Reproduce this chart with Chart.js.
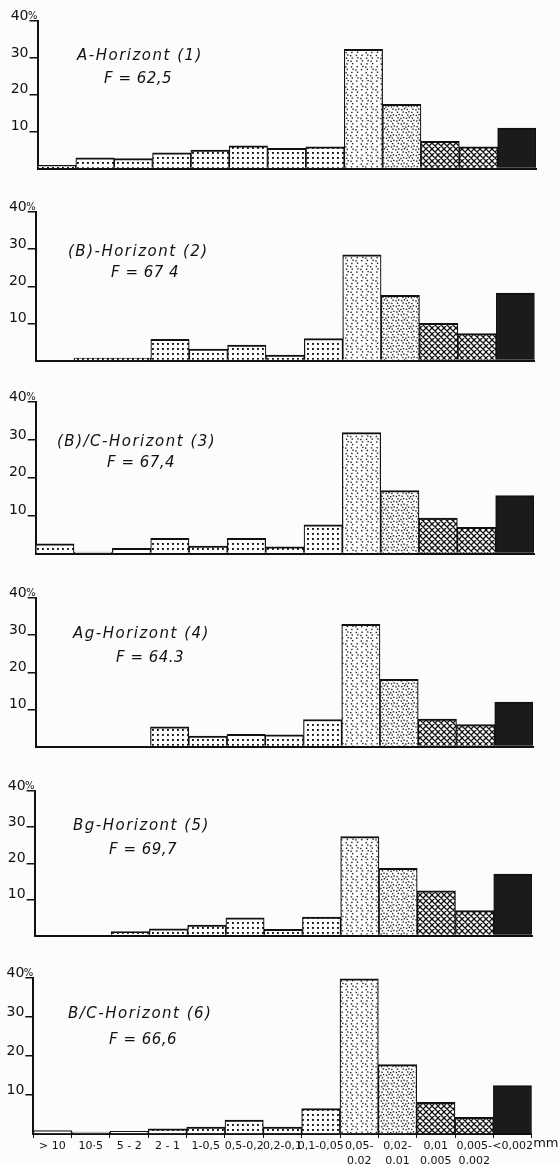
<!DOCTYPE html>
<html>
<head>
<meta charset="utf-8">
<script src="https://cdn.jsdelivr.net/npm/chart.js@4"></script>
<style>
  body { margin: 0; background: #fcfcfa; width: 560px; height: 1164px; overflow: hidden; position: relative; }
  canvas { position: absolute; left: 0; }
</style>
</head>
<body>
<script>
// grain size classes (mm)
const fractions = ['> 10', '10·5', '5 - 2', '2 - 1', '1-0,5', '0,5-0,2', '0,2-0,1', '0,1-0,05',
  ['0,05-', '0,02'], ['0,02-', '0,01'], ['0,01', '0,005'], ['0,005-', '0,002'], '<0,002'];
const yTicks = [0, 10, 20, 30, 40];

const horizons = ['A-Horizont (1)', '(B)-Horizont (2)', '(B)/C-Horizont (3)',
  'Ag-Horizont (4)', 'Bg-Horizont (5)', 'B/C-Horizont (6)'];
const fLabels = ['F = 62,5', 'F = 67 4', 'F = 67,4', 'F = 64.3', 'F = 69,7', 'F = 66,6'];

// percent per fraction
const h1 = [0.9, 2.9, 2.7, 4.3, 5.0, 6.2, 5.5, 5.9, 32.3, 17.4, 7.4, 5.9, 11.0];
const h2 = [0, 0.7, 0.7, 5.7, 3.1, 4.2, 1.5, 5.9, 28.5, 17.6, 10.0, 7.3, 18.2];
const h3 = [2.6, 0.4, 1.4, 4.0, 2.0, 4.0, 1.8, 7.6, 31.9, 16.6, 9.4, 6.9, 15.3];
const h4 = [0, 0, 0, 5.3, 2.8, 3.3, 3.2, 7.3, 32.9, 18.1, 7.4, 5.9, 12.0];
const h5 = [0, 0, 1.1, 1.9, 2.9, 4.9, 1.7, 5.1, 27.4, 18.6, 12.4, 6.9, 17.0];
const h6 = [0.9, 0.5, 0.7, 1.3, 1.8, 3.6, 1.8, 6.5, 39.8, 17.8, 8.1, 4.3, 12.4];
const series = [h1, h2, h3, h4, h5, h6];

// page layout of each panel (px)
const layout = [
  { top: 21,    base: 174,    left: 37.5, right: 536,   tx: 77, ty: 60,   fx: 104, fy: 83 },
  { top: 212,   base: 365.7,  left: 35.7, right: 534.6, tx: 68, ty: 256,  fx: 111, fy: 277 },
  { top: 402,   base: 559.3,  left: 35.7, right: 534,   tx: 57, ty: 446,  fx: 107, fy: 467 },
  { top: 598,   base: 751.7,  left: 35.7, right: 533,   tx: 73, ty: 638,  fx: 116, fy: 662 },
  { top: 790.7, base: 941,    left: 34.6, right: 532,   tx: 73, ty: 830,  fx: 109, fy: 854 },
  { top: 978,   base: 1133.7, left: 33.3, right: 531.7, tx: 68, ty: 1018, fx: 109, fy: 1044 }
];

Chart.defaults.font.family = '"DejaVu Sans"';
Chart.defaults.color = '#111';

function tile(w, h, draw) {
  const c = document.createElement('canvas');
  c.width = w; c.height = h;
  const g = c.getContext('2d');
  g.fillStyle = '#fff';
  g.fillRect(0, 0, w, h);
  draw(g);
  return g.createPattern(c, 'repeat');
}

const dotGrid = tile(5, 5, g => { g.fillStyle = '#151515'; g.fillRect(2, 2, 1.9, 1.9); });

function stipple(n) {
  return tile(20, 20, g => {
    g.fillStyle = '#222';
    for (let i = 0; i < n; i++) {
      const x = ((0.5 + i * 0.7548776662) % 1) * 20;
      const y = ((0.5 + i * 0.5698402910) % 1) * 20;
      g.fillRect(x, y, 1.4, 1.4);
    }
  });
}

const hatch = tile(6, 6, g => {
  g.strokeStyle = '#111';
  g.lineWidth = 1.3;
  g.beginPath();
  for (const o of [-6, 0, 6]) {
    g.moveTo(o, 0); g.lineTo(o + 6, 6);
    g.moveTo(o, 6); g.lineTo(o + 6, 0);
  }
  g.stroke();
});

const fills = [dotGrid, dotGrid, dotGrid, dotGrid, dotGrid, dotGrid, dotGrid, dotGrid,
  stipple(26), stipple(40), hatch, hatch, '#1b1b1b'];

const panelText = {
  id: 'panelText',
  afterDraw(chart, args, o) {
    const ctx = chart.ctx;
    const a = chart.chartArea;
    const y40 = chart.scales.y.getPixelForValue(40);
    ctx.save();
    ctx.fillStyle = '#111';
    ctx.textBaseline = 'alphabetic';
    ctx.font = 'italic 15px "DejaVu Sans"';
    ctx.letterSpacing = '1.5px';
    ctx.fillText(o.title, o.tx, o.ty);
    ctx.letterSpacing = '0.5px';
    ctx.fillText(o.f, o.fx, o.fy);
    ctx.letterSpacing = '0px';
    ctx.font = '10px "DejaVu Sans"';
    ctx.fillText('%', a.left - 9.5, y40 - 2.5);
    if (o.unit) {
      ctx.font = '13px "DejaVu Sans"';
      ctx.fillText(o.unit, a.right + 1.5, a.bottom + 13);
    }
    ctx.restore();
  }
};

series.forEach((values, i) => {
  const p = layout[i];
  const last = i === series.length - 1;
  const padTop = 16;
  const cTop = p.top - padTop;
  const xH = last ? 30 : 0;
  const padBottom = last ? 0 : 4;
  const cv = document.createElement('canvas');
  cv.width = 560;
  cv.height = Math.round(p.base - cTop + xH + padBottom);
  cv.style.top = cTop + 'px';
  document.body.appendChild(cv);

  new Chart(cv, {
    type: 'bar',
    data: {
      labels: fractions,
      datasets: [{
        data: values,
        backgroundColor: fills,
        borderColor: '#111',
        borderWidth: { top: 2, left: 1.2, right: 1.2, bottom: 0 },
        borderSkipped: 'start',
        barPercentage: 1,
        categoryPercentage: 1
      }]
    },
    options: {
      responsive: false,
      animation: false,
      events: [],
      layout: { padding: { top: padTop, right: 560 - p.right, bottom: padBottom, left: 0 } },
      plugins: {
        legend: { display: false },
        tooltip: { enabled: false },
        panelText: {
          title: horizons[i], f: fLabels[i],
          tx: p.tx, ty: p.ty - cTop, fx: p.fx, fy: p.fy - cTop,
          unit: last ? 'mm' : null
        }
      },
      scales: {
        x: {
          afterFit: s => { s.height = xH; },
          ticks: {
            display: last, autoSkip: false, maxRotation: 0, minRotation: 0, padding: 1,
            font: { size: 11, lineHeight: 1.35 }, color: '#111'
          },
          grid: { display: last, drawOnChartArea: false, drawTicks: last, tickLength: 4, offset: true, color: '#111', lineWidth: 1 },
          border: { display: true, width: 2, color: '#111' }
        },
        y: {
          min: 0, max: 40,
          afterFit: s => { s.width = p.left; },
          afterBuildTicks: s => { s.ticks = yTicks.map(v => ({ value: v })); },
          ticks: {
            padding: 1, labelOffset: -5, color: '#111',
            font: { size: 14 },
            callback: v => (v === 0 ? '' : String(v))
          },
          grid: {
            drawOnChartArea: false, drawTicks: true, tickLength: 8, lineWidth: 1.5,
            color: c => (c.tick && c.tick.value === 0 ? 'rgba(0,0,0,0)' : '#111')
          },
          border: { display: true, width: 2, color: '#111' }
        }
      }
    },
    plugins: [panelText]
  });
});
</script>
</body>
</html>
